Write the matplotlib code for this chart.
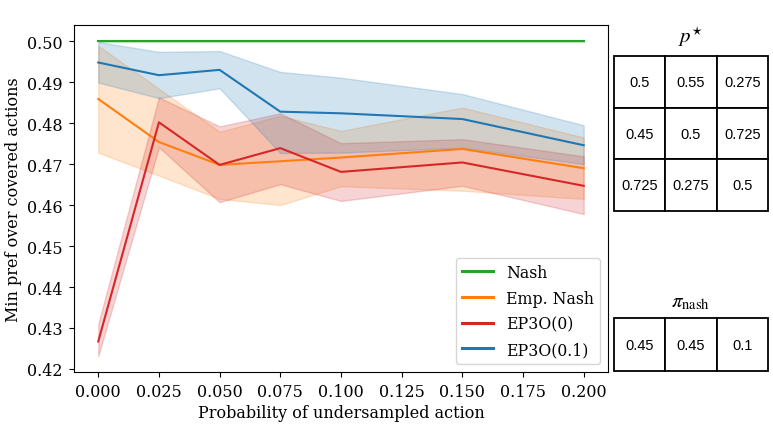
import matplotlib
matplotlib.use("Agg")
import matplotlib.pyplot as plt
import numpy as np

plt.rcParams['font.family'] = 'DejaVu Serif'
plt.rcParams['mathtext.fontset'] = 'stix'

# probability of the undersampled action
probs = [0.0, 0.025, 0.05, 0.075, 0.1, 0.15, 0.2]

nash_mean = [0.5, 0.5, 0.5, 0.5, 0.5, 0.5, 0.5]
nash_lo = [0.4998, 0.4998, 0.4998, 0.4998, 0.4998, 0.4998, 0.4998]
nash_hi = [0.5001, 0.5001, 0.5001, 0.5001, 0.5001, 0.5001, 0.5001]

emp_mean = [0.4859, 0.4754, 0.4698, 0.4707, 0.4716, 0.4737, 0.4690]
emp_lo = [0.4728, 0.4672, 0.4615, 0.4600, 0.4646, 0.4635, 0.4615]
emp_hi = [0.4989, 0.4884, 0.4779, 0.4818, 0.4781, 0.4838, 0.4765]

ep0_mean = [0.4267, 0.4802, 0.4698, 0.4739, 0.4681, 0.4704, 0.4647]
ep0_lo = [0.4231, 0.4741, 0.4607, 0.4651, 0.4610, 0.4647, 0.4578]
ep0_hi = [0.4310, 0.4863, 0.4792, 0.4824, 0.4751, 0.4761, 0.4719]

ep01_mean = [0.4948, 0.4917, 0.4930, 0.4828, 0.4824, 0.4810, 0.4746]
ep01_lo = [0.4899, 0.4861, 0.4885, 0.4727, 0.4728, 0.4740, 0.4700]
ep01_hi = [0.4998, 0.4974, 0.4976, 0.4925, 0.4911, 0.4871, 0.4795]

p_star = [["0.5", "0.55", "0.275"],
          ["0.45", "0.5", "0.725"],
          ["0.725", "0.275", "0.5"]]
pi_nash = [["0.45", "0.45", "0.1"]]

series = [
    ("Nash", "tab:green", nash_mean, nash_lo, nash_hi),
    ("Emp. Nash", "tab:orange", emp_mean, emp_lo, emp_hi),
    ("EP3O(0)", "tab:red", ep0_mean, ep0_lo, ep0_hi),
    ("EP3O(0.1)", "tab:blue", ep01_mean, ep01_lo, ep01_hi),
]

fig = plt.figure(figsize=(7.73, 4.35), dpi=100)
ax = fig.add_axes([0.0957, 0.1425, 0.6908, 0.7977])

for name, col, m, lo, hi in series:
    ax.plot(probs, m, color=col, lw=1.5, label=name)
    ax.fill_between(probs, lo, hi, color=col, alpha=0.2)

ax.set_xticks(np.arange(0, 0.2001, 0.025))
ax.set_xticklabels(["%.3f" % t for t in np.arange(0, 0.2001, 0.025)])
ax.set_yticks(np.arange(0.42, 0.5001, 0.01))
ax.set_yticklabels(["%.2f" % t for t in np.arange(0.42, 0.5001, 0.01)])
ax.tick_params(labelsize=11.5, pad=4.5)
ax.set_xlabel("Probability of undersampled action", fontsize=11.5, labelpad=3)
ax.set_ylabel("Min pref over covered actions", fontsize=11.5)
leg = ax.legend(loc="lower right", fontsize=11.3, labelspacing=0.55)
for h in leg.get_lines():
    h.set_linewidth(2.2)


def draw_table(rect, cells, title, title_y):
    tax = fig.add_axes(rect)
    tax.axis("off")
    tab = tax.table(cellText=cells, cellLoc="center", bbox=[0, 0, 1, 1])
    tab.auto_set_font_size(False)
    for c in tab.get_celld().values():
        c.set_linewidth(1.3)
        c.get_text().set_fontproperties(
            matplotlib.font_manager.FontProperties(family="Liberation Sans", size=10.5))
    fig.text(rect[0] + rect[2] / 2, title_y, title, ha="center", va="center", fontsize=15)


draw_table([0.7943, 0.5126, 0.1992, 0.3563], p_star, r"$p^{\star}$", 0.915)
draw_table([0.7943, 0.1448, 0.1992, 0.1218], pi_nash, r"$\pi_{\mathrm{nash}}$", 0.305)

fig.savefig("out.png", dpi=100)
